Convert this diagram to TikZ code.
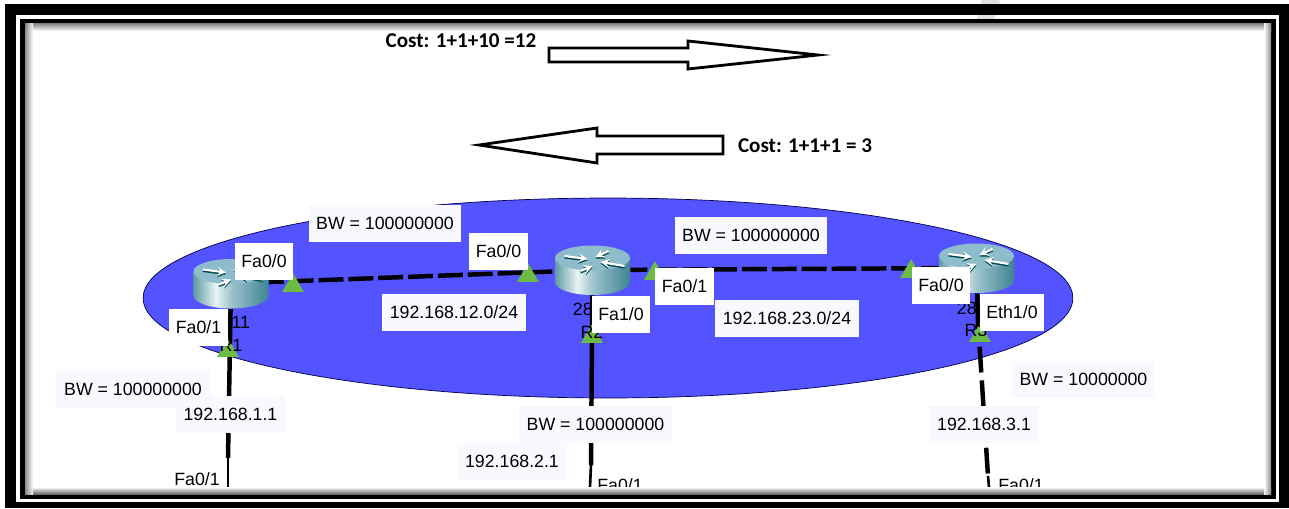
\documentclass[tikz,border=0pt]{standalone}
\usepackage{fontspec}
\setmainfont{Liberation Sans}
\newfontfamily\costfont{Carlito}
\usetikzlibrary{shapes.geometric}
\definecolor{areablue}{HTML}{5353FF}
\definecolor{tagfill}{HTML}{F8F9FF}
\definecolor{portgreen}{HTML}{6CBB45}
\definecolor{routertop}{HTML}{8FBCCA}
\definecolor{markgray}{HTML}{E2E2E2}
\definecolor{bodyA}{HTML}{5F9AA6}
\definecolor{bodyB}{HTML}{EAF4F5}
\definecolor{bodyC}{HTML}{9CC4CC}
\definecolor{bodyD}{HTML}{3F8494}
\pgfdeclarehorizontalshading{routerbody}{100bp}{
  color(0bp)=(bodyA); color(25bp)=(bodyA); color(40bp)=(bodyB); color(50bp)=(bodyC);
  color(75bp)=(bodyD); color(100bp)=(bodyD)}
\begin{document}
\begin{tikzpicture}
[x=0.02cm, y=-0.02cm, font=\fontsize{10.1}{12}\selectfont]

\tikzstyle{router}=[minimum width=1.5cm, minimum height=1cm, inner sep=0mm]
\tikzstyle{port}=[regular polygon, regular polygon sides=3, fill=portgreen, inner sep=0mm, minimum size=0.5cm]
\tikzstyle{tag}=[fill=tagfill, inner sep=0mm, minimum height=0.74cm]
\tikzstyle{ptag}=[fill=white, inner sep=0mm, minimum height=0.74cm, minimum width=1.17cm]
\tikzstyle{link}=[line width=2.55pt, black]
\tikzstyle{wan}=[link, dash pattern=on 14.2pt off 2.8pt]
\tikzstyle{cost}=[font=\costfont\bfseries\fontsize{12}{14}\selectfont, inner sep=0mm]
\tikzstyle{bigarrow}=[draw, line width=1.6pt, fill=white, line join=miter]

\useasboundingbox (0,0) rectangle (1289,508);
\fill[white] (0,0) rectangle (1289,508);

% frame
\fill[markgray] (982,0)--(1000,0)--(993,20)--(976,20)--cycle;
\fill[black] (5,4) rectangle (1289,508);
\fill[white] (16,15) rectangle (1279,502);
\fill[markgray] (978,15)--(996,15)--(994,19)--(977,19)--cycle;
\fill[black] (20,19) rectangle (1276,499);
\fill[white] (25,23) rectangle (1271,494);

% top arrows
\draw[bigarrow] (549,48)--(688,48)--(688,41)--(818,55)--(688,69)--(688,62)--(549,62)--cycle;
\draw[bigarrow] (723,136)--(597,136)--(597,128)--(479,145)--(597,163)--(597,154)--(723,154)--cycle;

\node[ellipse, draw=black!70!blue, thin, fill=areablue, inner sep=0mm, minimum width=18.6cm, minimum height=4cm] (area) at (608,298) {};

\node[router]	(R1)	at (231,283.5)	{};
\node[router]	(R2)	at (592.5,270)	{};
\node[router]	(R3)	at (976.5,268)	{};

\coordinate (L1a) at (228,458);
\coordinate (L1b) at (228,487);
\coordinate (L2a) at (591,465);
\coordinate (L2b) at (590,487);
\coordinate (L3c) at (978,322);
\coordinate (L3a) at (988,476);
\coordinate (L3b) at (989,487);

\draw[wan, dash phase=5.7pt] (R1)--(R2);
\draw[wan, dash phase=4.5pt] (R2)--(R3);
\draw[link] (R1)--(L1a);
\draw[link] (R2)--(L2a);
\draw[line width=1.5pt] (L1a)--(L1b);
\draw[line width=1.5pt] (L2a)--(L2b);
\draw[link] (R3)--(L3c);
\draw[link, dash pattern=on 14.7pt off 4.5pt, dash phase=5.1pt] (L3c)--(L3a);
\draw[line width=1.5pt] (L3a)--(L3b);

\node[port]	(P1)	at (293,285.6)	{};
\node[port]	(P2)	at (528,275.6)	{};
\node[port]	(P3)	at (655,273.6)	{};
\node[port]	(P4)	at (911,271.6)	{};
\node[port]	(P5)	at (228,350.6)	{};
\node[port]	(P6)	at (592,336.6)	{};
\node[port]	(P7)	at (980,335.6)	{};

% router icons
\foreach \rname in {R1,R2,R3} {
  \begin{scope}[shift={(\rname)}]
    \shade[shading=routerbody] (-37.5,-12) -- (-37.5,12) arc[start angle=180, end angle=0, x radius=37.5, y radius=13] -- (37.5,-12) -- cycle;
    \fill[routertop] (0,-12) ellipse[x radius=37.5, y radius=12.5];
    \foreach \ax/\ay/\bx/\by in {-28/-14/-5/-11, 16/-19/3/-13, 32/-4/8/-8, -12/1/0/-4} {
      \draw[-stealth, line width=1.2pt, teal!60!black] (\ax,\ay+1.5)--(\bx,\by+1.5);
      \draw[-stealth, line width=1.2pt, white] (\ax,\ay)--(\bx,\by);
    }
  \end{scope}
}

\node[inner sep=0mm]	(M1)	at (231,322)	{2811};
\node[inner sep=0mm]	(N1)	at (231,345)	{R1};
\node[inner sep=0mm]	(M2)	at (592,309)	{2811};
\node[inner sep=0mm]	(N2)	at (592,332)	{R2};
\node[inner sep=0mm]	(M3)	at (976,308)	{2811};
\node[inner sep=0mm]	(N3)	at (976,330)	{R3};

% labels
\node[tag, minimum width=3.06cm]	(bwA)	at (385,223.5)	{BW = 100000000};
\node[tag, minimum width=3.04cm]	(bwB)	at (751,235)	{BW = 100000000};
\node[tag, minimum width=3.1cm]	(bwC)	at (133,389)	{BW = 100000000};
\node[tag, minimum width=3.06cm]	(bwD)	at (595.5,424.5)	{BW = 100000000};
\node[tag, minimum width=2.86cm]	(bwE)	at (1083.5,379.5)	{BW = 10000000};
\node[tag, minimum width=2.88cm]	(netA)	at (454,312)	{192.168.12.0/24};
\node[tag, minimum width=2.88cm]	(netB)	at (787,318.5)	{192.168.23.0/24};
\node[tag, minimum width=2.18cm]	(ipA)	at (230.5,414.5)	{192.168.1.1};
\node[tag, minimum width=2.2cm]	(ipB)	at (512,461)	{192.168.2.1};
\node[tag, minimum width=2.2cm]	(ipC)	at (984,424.5)	{192.168.3.1};

\node[ptag]	(fA)	at (264,261.5)	{Fa0/0};
\node[ptag]	(fB)	at (498.5,251.5)	{Fa0/0};
\node[ptag]	(fC)	at (198.5,327)	{Fa0/1};
\node[ptag]	(fD)	at (684.5,286.5)	{Fa0/1};
\node[ptag]	(fE)	at (621,314)	{Fa1/0};
\node[ptag]	(fF)	at (941,285)	{Fa0/0};
\node[ptag, minimum width=1.28cm]	(fG)	at (1012,312)	{Eth1/0};
\node[inner sep=0mm]	(fH)	at (197,479)	{Fa0/1};
\node[inner sep=0mm]	(fI)	at (620,485)	{Fa0/1};
\node[inner sep=0mm]	(fJ)	at (1021,485)	{Fa0/1};

% frame shadow
\fill[white] (25,487) rectangle (1271,494);
\shade[top color=black!50, bottom color=white] (25,23) rectangle (1271,31);
\shade[top color=white, bottom color=black!60] (25,487) rectangle (1271,494);
\shade[left color=black!50, right color=white, opacity=0.9] (25,23) rectangle (33,494);
\shade[left color=white, right color=black!50, opacity=0.9] (1264,23) rectangle (1271,494);

\node[cost]	(costA)	at (461,41)	{Cost: 1+1+10 =12};
\node[cost]	(costB)	at (805,145.5)	{Cost: 1+1+1 = 3};
\end{tikzpicture}
\end{document}
